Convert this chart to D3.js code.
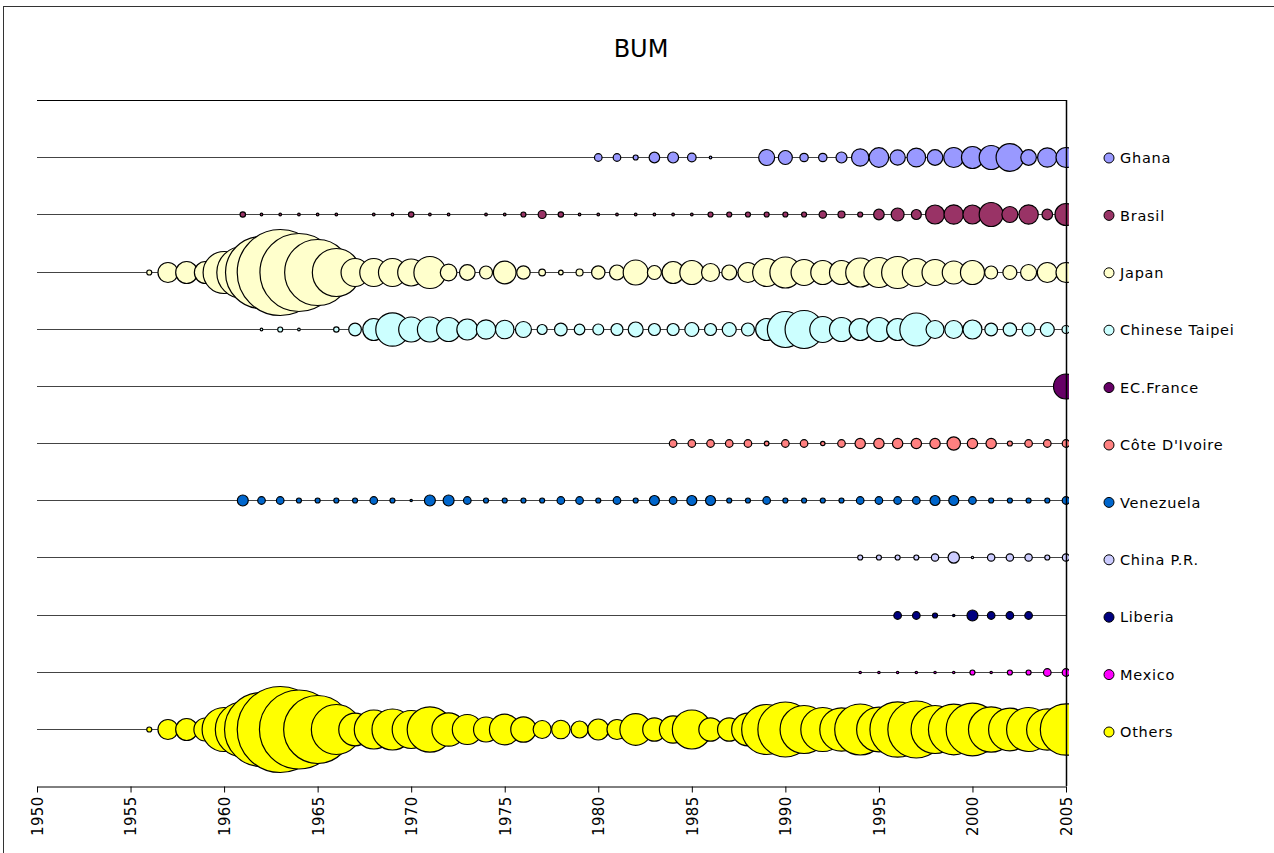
<!DOCTYPE html>
<html>
<head>
<meta charset="utf-8">
<script src="https://cdn.jsdelivr.net/npm/d3@7"></script>
<style>
  html, body { margin: 0; padding: 0; background: #fff; }
  svg { display: block; }
  text { font-family: "DejaVu Sans", Verdana, sans-serif; fill: #000; }
</style>
</head>
<body>
<svg id="chart" width="1274" height="853"></svg>
<script>
// ---------- DATA ----------
const title = "BUM";
const seriesNames = ["Ghana", "Brasil", "Japan", "Chinese Taipei", "EC.France", "Côte D'Ivoire",
                     "Venezuela", "China P.R.", "Liberia", "Mexico", "Others"];
const seriesColors = ["#9999ff", "#993366", "#ffffcc", "#ccffff", "#660066", "#ff8080",
                      "#0066cc", "#ccccff", "#000080", "#ff00ff", "#ffff00"];
const xTicks = [1950, 1955, 1960, 1965, 1970, 1975, 1980, 1985, 1990, 1995, 2000, 2005];

// first year of each series, then one value per year (null = no bubble)
const ghanaStart = 1980;
const ghana = [14.4, 14.4, 6.3, 28, 30, 18.5, 1.7, null, null, 64, 49, 17.6, 17.6, 30, 75.7, 96,
               59.3, 86.5, 60.8, 100, 121, 144, 190, 60.8, 94, 100];
const brasilStart = 1961;
const brasil = [7.3, 1.7, 1.7, 1.7, 1.7, 1.7, null, 1.7, 1.7, 7.3, 1.7, 1.7, null, 1.7, 1.7, 6.3,
                16, 7.3, 1.7, 1.7, 1.7, 1.7, 1.7, 1.7, 1.7, 6.3, 6.3, 6.3, 6.3, 6.3, 6.3, 13.7,
                12.3, 6.3, 28, 42, 25, 90, 94, 90, 144, 64, 94, 28, 121];
const japanStart = 1956;
const japan = [6.3, 100, 121, 121, 441, 676, 1296, 1849, 1521, 1089, 576, 196, 196, 196, 182, 256,
               69, 61, 42, 128, 45, 11, 5.3, 12.3, 45, 56, 156, 49, 121, 144, 81, 56, 100, 196,
               240, 169, 144, 144, 210, 225, 256, 196, 169, 132, 144, 42, 49, 64, 100, 100];
const taipeiStart = 1962;
const taipei = [1.7, 6.3, 1.7, null, 7.3, 40, 121, 279, 156, 156, 144, 110, 94, 86, 64, 25, 40, 28,
                30, 36, 56, 36, 36, 49, 36, 49, 42, 121, 324, 361, 169, 144, 121, 144, 121, 272,
                81, 81, 90, 40, 45, 42, 49, 16];
const franceStart = 2005;
const france = [156];
const coteStart = 1984;
const cote = [14.4, 14.4, 14.4, 14.4, 14.4, 5.3, 14.4, 14.4, 4.8, 14.4, 27, 27, 27, 27, 27, 45,
              27, 27, 6.3, 14.4, 14.4, 14.4];
const venezuelaStart = 1961;
const venezuela = [30, 14.4, 14.4, 6.3, 6.3, 6.3, 6.3, 14.4, 6.3, 1.4, 30, 30, 14.4, 6.3, 6.3, 6.3,
                   6.3, 14.4, 14.4, 6.3, 14.4, 6.3, 25, 14.4, 25, 25, 6.3, 6.3, 14.4, 6.3, 6.3,
                   6.3, 6.3, 14.4, 14.4, 14.4, 14.4, 25, 25, 14.4, 6.3, 6.3, 6.3, 6.3, 14.4];
const chinaStart = 1994;
const china = [6.3, 6.3, 6.3, 6.3, 13.7, 32.5, 1.4, 13.7, 13.7, 13.7, 6.3, 13.7];
const liberiaStart = 1996;
const liberia = [14.4, 14.4, 6.3, 1.4, 30, 14.4, 14.4, 14.4];
const mexicoStart = 1994;
const mexico = [1.4, 1.4, 1.4, 1.4, 1.4, 1.4, 6.3, 1.4, 6.3, 6.3, 14.4, 14.4];
const othersStart = 1956;
const others = [6.3, 100, 121, 132, 484, 756, 1369, 1849, 1560, 1156, 625, 266, 380, 420, 361, 515,
                279, 225, 156, 234, 161, 81, 86, 72, 110, 100, 250, 137, 188, 380, 137, 137, 266,
                625, 756, 576, 484, 471, 650, 497, 767, 812, 576, 640, 692, 515, 454, 484, 428, 660];

const seriesStarts = [ghanaStart, brasilStart, japanStart, taipeiStart, franceStart, coteStart,
                      venezuelaStart, chinaStart, liberiaStart, mexicoStart, othersStart];
const seriesValues = [ghana, brasil, japan, taipei, france, cote, venezuela, china, liberia, mexico, others];

// ---------- BUILD ----------
(function () {
const series = seriesNames.map((name, i) => ({
  name, color: seriesColors[i], row: seriesNames.length - i,
  points: seriesValues[i].map((v, k) => ({ year: seriesStarts[i] + k, value: v }))
                         .filter(p => p.value != null)
}));

const W = 1274, H = 853;
const pL = 37, pR = 1066, pT = 100, pB = 786;

const svg = d3.select("#chart");
svg.append("rect").attr("width", W).attr("height", H).attr("fill", "#fff");
// outer chart border
svg.append("rect").attr("x", 3.5).attr("y", 6.5).attr("width", W + 10).attr("height", H + 10)
   .attr("fill", "none").attr("stroke", "#333").attr("stroke-width", 1);

const x = d3.scaleLinear().domain([1950, 2005]).range([pL, pR]);
const y = d3.scaleLinear().domain([0, 12]).range([pB, pT]);
const r = d3.scaleSqrt().domain([0, 1849]).range([0, 43]);

svg.append("text").attr("x", 641).attr("y", 57).attr("text-anchor", "middle")
   .style("font-size", "24px").text(title);

// row lines
svg.append("g").selectAll("line").data(series).join("line")
   .attr("x1", x(1950)).attr("x2", x(2005))
   .attr("y1", d => Math.round(y(d.row)) + 0.5).attr("y2", d => Math.round(y(d.row)) + 0.5)
   .attr("stroke", "#444").attr("stroke-width", 1);

// clip
svg.append("clipPath").attr("id", "plotclip").append("rect")
   .attr("x", pL).attr("y", pT).attr("width", pR - pL + 3).attr("height", pB - pT);

const bubbles = svg.append("g").attr("clip-path", "url(#plotclip)");
series.forEach(s => {
  bubbles.append("g").selectAll("circle").data(s.points).join("circle")
    .attr("cx", d => x(d.year)).attr("cy", Math.round(y(s.row)) + 0.5)
    .attr("r", d => r(d.value))
    .attr("fill", s.color).attr("stroke", "#000").attr("stroke-width", 1.2);
});

// frame: top and right
svg.append("line").attr("x1", pL).attr("x2", pR + 0.5).attr("y1", pT + 0.5).attr("y2", pT + 0.5)
   .attr("stroke", "#000").attr("stroke-width", 1);
svg.append("line").attr("x1", pR + 0.5).attr("x2", pR + 0.5).attr("y1", pT).attr("y2", pB)
   .attr("stroke", "#000").attr("stroke-width", 1.5);

// x axis
const xAxis = d3.axisBottom(x).tickValues(xTicks).tickFormat(d3.format("d"))
  .tickSize(6).tickSizeOuter(0);
const gx = svg.append("g").attr("transform", `translate(0,${pB + 0.5})`).call(xAxis);
gx.select(".domain").attr("stroke", "#000");
gx.selectAll(".tick line").attr("stroke", "#000");
gx.selectAll(".tick text")
  .attr("transform", "rotate(-90)")
  .attr("x", -10).attr("y", 0).attr("dy", "0.36em")
  .attr("text-anchor", "end")
  .style("font-size", "15px").style("letter-spacing", "0.3px")
  .style("font-family", "DejaVu Sans, Verdana, sans-serif");

// legend
const legend = svg.append("g");
const legendY = i => 158 + i * 57.4;
series.forEach((s, i) => {
  legend.append("circle").attr("cx", 1109).attr("cy", legendY(i)).attr("r", 5)
    .attr("fill", s.color).attr("stroke", "#000").attr("stroke-width", 1);
  legend.append("text").attr("x", 1120).attr("y", legendY(i)).attr("dy", "0.36em")
    .style("font-size", "14.5px").style("letter-spacing", "0.75px").text(s.name);
});
})();
</script>
</body>
</html>
